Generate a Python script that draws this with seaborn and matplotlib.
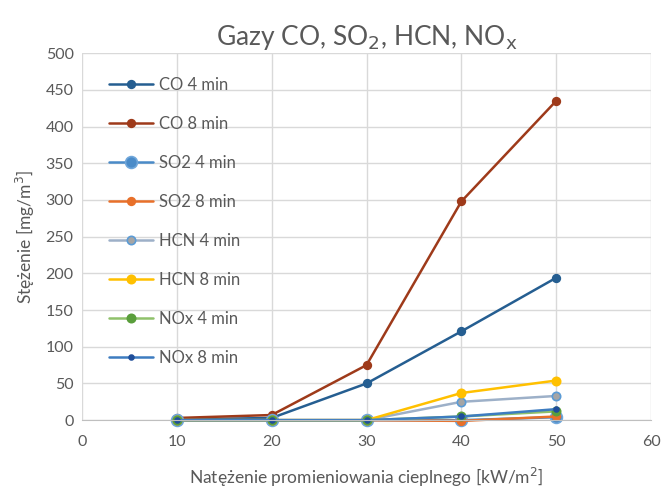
import matplotlib
matplotlib.use("Agg")
import matplotlib.pyplot as plt
import seaborn as sns
import pandas as pd

x_vals = [10, 20, 30, 40, 50]
series_names = ["CO 4 min", "CO 8 min", "SO2 4 min", "SO2 8 min",
                "HCN 4 min", "HCN 8 min", "NOx 4 min", "NOx 8 min"]
co_4 = [1, 3, 50, 121, 194]
co_8 = [3, 7, 75, 298, 435]
so2_4 = [0, 0, 0, 0, 4]
so2_8 = [0, 0, 0, -1, 5]
hcn_4 = [0, 0, 0, 25, 33]
hcn_8 = [0, 0, 0, 37, 54]
nox_4 = [0, 0, 0, 5, 12]
nox_8 = [0, 0, 0, 5, 15]
values = [co_4, co_8, so2_4, so2_8, hcn_4, hcn_8, nox_4, nox_8]

styles = {
    "CO 4 min": dict(color="#255E91", ms=5.5, mfc="#255E91", mec="#255E91"),
    "CO 8 min": dict(color="#9E3A1A", ms=5.5, mfc="#9E3A1A", mec="#9E3A1A"),
    "SO2 4 min": dict(color="#4A8BC8", ms=8.5, mfc="#4A8BC8", mec="#6FA6DA"),
    "SO2 8 min": dict(color="#E8702A", ms=5.5, mfc="#E8702A", mec="#E8702A"),
    "HCN 4 min": dict(color="#9DB0C8", ms=6, mfc="#A5A5A5", mec="#5B9BD5"),
    "HCN 8 min": dict(color="#FFC000", ms=6, mfc="#FFC000", mec="#FFC000"),
    "NOx 4 min": dict(color="#8FC16A", ms=6, mfc="#5A9E3C", mec="#5A9E3C"),
    "NOx 8 min": dict(color="#3D7CC0", ms=3.5, mfc="#1F4E9A", mec="#1F4E9A"),
}

rows = []
for name, vals in zip(series_names, values):
    for xv, yv in zip(x_vals, vals):
        rows.append({"x": xv, "y": yv, "series": name})
df = pd.DataFrame(rows)

sns.set_style("white")
plt.rcParams["font.family"] = ["Lato", "DejaVu Sans"]

fig = plt.figure(figsize=(6.61, 4.92), dpi=100)
ax = fig.add_axes([0.124, 0.146, 0.861, 0.746])

for name in series_names:
    st = styles[name]
    sub = df[df["series"] == name]
    sns.lineplot(data=sub, x="x", y="y", ax=ax, color=st["color"], lw=1.8,
                 marker="o", markersize=st["ms"], markerfacecolor=st["mfc"],
                 markeredgecolor=st["mec"], markeredgewidth=1.2, label=name,
                 clip_on=False)

grey = "#595959"
ax.set_xlim(0, 60)
ax.set_ylim(0, 500)
ax.set_xticks(range(0, 61, 10))
ax.set_yticks(range(0, 501, 50))
ax.grid(True, color="#D9D9D9", lw=1)
ax.set_axisbelow(True)
for s in ["top", "right", "left"]:
    ax.spines[s].set_visible(False)
ax.spines["bottom"].set_color("#BFBFBF")
ax.tick_params(axis="x", length=0, labelsize=11.5, colors=grey, pad=11)
ax.tick_params(axis="y", length=0, labelsize=11.5, colors=grey, pad=6)
ax.set_xlabel("Natężenie promieniowania cieplnego [kW/m$^2$]", fontsize=12.5, color=grey, labelpad=12)
ax.set_ylabel("Stężenie [mg/m$^3$]", fontsize=12.5, color=grey, labelpad=6)
ax.set_title("Gazy CO, SO$_\\mathrm{2}$, HCN, NO$_\\mathrm{x}$", fontsize=19, color=grey, pad=6)

leg = ax.legend(loc="upper left", bbox_to_anchor=(0.022, 0.975), frameon=False,
                fontsize=12, labelspacing=1.38, handlelength=2.6, handletextpad=0.35)
for t in leg.get_texts():
    t.set_color(grey)

fig.savefig("out.png", dpi=100)
